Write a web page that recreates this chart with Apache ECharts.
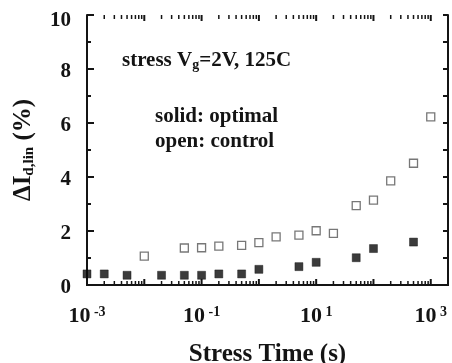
<!DOCTYPE html>
<html>
<head>
<meta charset="utf-8">
<script src="https://cdn.jsdelivr.net/npm/echarts@6/dist/echarts.min.js"></script>
<style>html,body{margin:0;padding:0;background:#fff}#c{width:452px;height:363px}</style>
</head>
<body>
<div id="c"></div>
<script>
// ---- data ----
const solidX = [0.001, 0.002, 0.005, 0.02, 0.05, 0.1, 0.2, 0.5, 1, 5, 10, 50, 100, 500];
const solidY = [0.41, 0.41, 0.36, 0.36, 0.36, 0.36, 0.41, 0.41, 0.58, 0.68, 0.84, 1.01, 1.35, 1.59];
const openX = [0.01, 0.05, 0.1, 0.2, 0.5, 1, 2, 5, 10, 20, 50, 100, 200, 500, 1000];
const openY = [1.07, 1.37, 1.38, 1.44, 1.47, 1.57, 1.78, 1.85, 2.01, 1.91, 2.94, 3.14, 3.86, 4.51, 6.23];
const xLabelExponents = [-3, -1, 1, 3];
const yTickLabels = [0, 2, 4, 6, 8, 10];
const xMin = 0.001, xMax = 2000;
const yMin = 0, yMax = 10;

// tick positions for log axis (decades and 2..9 minors)
const xMajorTicks = [];
const xMinorTicks = [];
for (let k = -3; k <= 3; k++) {
  xMajorTicks.push(Math.pow(10, k));
  for (let m = 2; m <= 9; m++) {
    const v = m * Math.pow(10, k);
    if (v < xMax) xMinorTicks.push(v);
  }
}

const FONT = '"Liberation Serif", "Times New Roman", serif';
const INK = '#141414';

function zip(a, b) { return a.map((v, i) => [v, b[i]]); }

const chart = echarts.init(document.getElementById('c'), null, { renderer: 'canvas' });

function tickItem(len, width) {
  return function (params, api) {
    const v = api.value(0);
    const pb = api.coord([v, yMin]);
    const pt = api.coord([v, yMax]);
    return {
      type: 'group',
      children: [
        { type: 'line', shape: { x1: pb[0], y1: pb[1], x2: pb[0], y2: pb[1] - len }, style: { stroke: INK, lineWidth: width } },
        { type: 'line', shape: { x1: pt[0], y1: pt[1], x2: pt[0], y2: pt[1] + len }, style: { stroke: INK, lineWidth: width } }
      ]
    };
  };
}

const yLabelStyle = { fontFamily: FONT, fontWeight: 'bold', fontSize: 21, color: INK };

const option = {
  backgroundColor: '#fff',
  animation: false,
  grid: { left: 87, right: 4, top: 15, bottom: 78, containLabel: false, outerBoundsMode: 'none' },
  xAxis: [{
    type: 'log', logBase: 10, min: xMin, max: xMax,
    position: 'bottom',
    axisLine: { show: true, lineStyle: { color: INK, width: 2 } },
    axisTick: { show: false },
    splitLine: { show: false },
    axisLabel: {
      show: true, margin: 20, color: INK,
      formatter: function (v) {
        const e = Math.log10(v);
        const r = Math.round(e);
        if (Math.abs(e - r) > 1e-6) return '';
        if (xLabelExponents.indexOf(r) < 0) return '';
        return '{b|10}{s| ' + r + '}';
      },
      rich: {
        b: { fontFamily: FONT, fontWeight: 'bold', fontSize: 22, color: INK, lineHeight: 22 },
        s: { fontFamily: FONT, fontWeight: 'bold', fontSize: 14, color: INK, verticalAlign: 'top', lineHeight: 14 }
      }
    },
    name: 'Stress Time (s)', nameLocation: 'middle', nameGap: 57,
    nameTextStyle: { fontFamily: FONT, fontWeight: 'bold', fontSize: 25, color: INK }
  }, {
    type: 'log', logBase: 10, min: xMin, max: xMax,
    position: 'top',
    axisLine: { show: true, lineStyle: { color: INK, width: 2 } },
    axisTick: { show: false }, axisLabel: { show: false }, splitLine: { show: false }
  }],
  yAxis: [{
    type: 'value', min: yMin, max: yMax, interval: 2,
    position: 'left',
    axisLine: { show: true, lineStyle: { color: INK, width: 2 } },
    axisTick: { show: true, inside: true, length: 7, lineStyle: { color: INK, width: 2 } },
    minorTick: { show: true, splitNumber: 2, length: 4, lineStyle: { color: INK, width: 2 } },
    splitLine: { show: false },
    axisLabel: {
      margin: 16, color: INK,
      formatter: function (v) {
        if (yTickLabels.indexOf(v) < 0) return '';
        return (v === yMax ? '{top|' : '{n|') + v + '}';
      },
      rich: {
        n: Object.assign({ padding: [5, 0, 0, 0] }, yLabelStyle),
        top: Object.assign({ padding: [12, 0, 0, 0] }, yLabelStyle)
      }
    },
    name: '{d|ΔI}{sub|d,lin}{d| (%)}', nameLocation: 'middle', nameGap: 50, nameRotate: 90,
    nameTextStyle: {
      rich: {
        d: { fontFamily: FONT, fontWeight: 'bold', fontSize: 25, color: INK },
        sub: { fontFamily: FONT, fontWeight: 'bold', fontSize: 15, color: INK, verticalAlign: 'bottom', padding: [11, 0, 0, 0] }
      }
    }
  }, {
    type: 'value', min: yMin, max: yMax, interval: 1,
    position: 'right',
    axisLine: { show: true, lineStyle: { color: INK, width: 2 } },
    axisTick: { show: true, inside: true, length: 5, lineStyle: { color: INK, width: 2 } },
    axisLabel: { show: false }, splitLine: { show: false }
  }],
  graphic: [
    { type: 'text', left: 122, top: 50, style: {
        text: '{t|stress V}{g|g}{t|=2V, 125C}',
        rich: {
          t: { fontFamily: FONT, fontWeight: 'bold', fontSize: 21, fill: INK },
          g: { fontFamily: FONT, fontWeight: 'bold', fontSize: 14, fill: INK, verticalAlign: 'bottom', padding: [9, 0, 0, 0] }
        } } },
    { type: 'text', left: 155, top: 106, style: { text: 'solid: optimal', font: 'bold 21px ' + FONT, fill: INK } },
    { type: 'text', left: 155, top: 131, style: { text: 'open: control', font: 'bold 21px ' + FONT, fill: INK } }
  ],
  series: [
    { type: 'custom', name: 'majorTicks', xAxisIndex: 0, yAxisIndex: 0, silent: true, clip: false,
      data: xMajorTicks.map(v => [v, 0]), renderItem: tickItem(6, 2), z: 1 },
    { type: 'custom', name: 'minorTicks', xAxisIndex: 0, yAxisIndex: 0, silent: true, clip: false,
      data: xMinorTicks.map(v => [v, 0]), renderItem: tickItem(4, 1.5), z: 1 },
    { type: 'scatter', name: 'control (open)', xAxisIndex: 0, yAxisIndex: 0, clip: false,
      symbol: 'rect', symbolSize: 8, data: zip(openX, openY),
      itemStyle: { color: '#fff', borderColor: '#555', borderWidth: 1.3 }, z: 3 },
    { type: 'scatter', name: 'optimal (solid)', xAxisIndex: 0, yAxisIndex: 0, clip: false,
      symbol: 'rect', symbolSize: 8, data: zip(solidX, solidY),
      itemStyle: { color: '#0a0a0a', borderColor: '#0a0a0a', borderWidth: 0.5 }, z: 3 }
  ]
};
chart.setOption(option);
</script>
</body>
</html>
